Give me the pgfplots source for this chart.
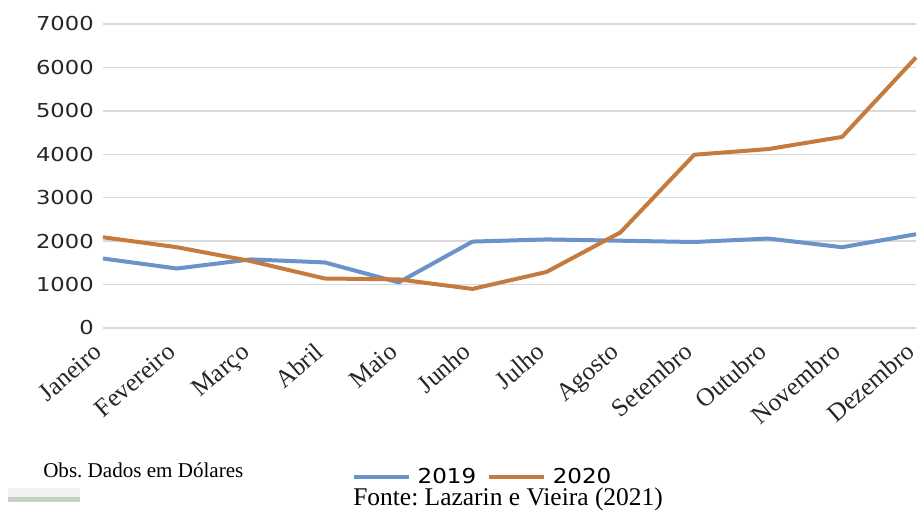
\documentclass[border=0pt]{standalone}
\usepackage{fontspec}
\usepackage{pgfplots}
\pgfplotsset{compat=1.18}
\setmainfont{Liberation Serif}
\newfontfamily\tickfont{DejaVu Sans}[FakeStretch=1.18]
\newfontfamily\legfont{DejaVu Sans}[FakeStretch=1.12]
\definecolor{serie2019}{RGB}{106,146,203}
\definecolor{serie2020}{RGB}{197,122,62}
\definecolor{gridgray}{RGB}{217,217,217}
\definecolor{palegreen}{RGB}{196,210,196}
\definecolor{palehaze}{RGB}{240,243,240}
\frenchspacing

\begin{document}
\begin{tikzpicture}
\useasboundingbox (0,0) rectangle (690.75pt,383.25pt);
\begin{axis}[
  at={(77.25pt,137.25pt)}, anchor=south west,
  scale only axis, width=609.75pt, height=228pt,
  xmin=0, xmax=11, ymin=0, ymax=7000,
  clip=false,
  axis line style={draw=none},
  major tick length=0pt,
  ymajorgrids,
  major grid style={gridgray, line width=1.1pt},
  ytick={0,1000,...,7000},
  yticklabels={0,1000,2000,3000,4000,5000,6000,7000},
  yticklabel style={font=\tickfont\fontsize{14.4}{16}\selectfont, inner sep=0pt, xshift=-6.75pt, text=black!85},
  xtick={0,...,11},
  xticklabels={Janeiro,Fevereiro,Março,Abril,Maio,Junho,Julho,Agosto,Setembro,Outubro,Novembro,Dezembro},
  xticklabel style={font=\fontsize{19}{21}\selectfont, xshift=-4.5pt, yshift=-14.5pt, rotate=41, anchor=north east, inner sep=0pt, text height=0.68em, text depth=0pt, text=black!85},
  legend columns=-1,
  legend style={at={(axis cs:3.369,-3430)}, anchor=west, draw=none, fill=none,
    inner sep=0pt, outer sep=0pt, nodes={inner sep=0pt},
    font=\legfont\fontsize{15.4}{17}\selectfont,
    /tikz/every odd column/.append style={column sep=5pt},
    /tikz/every even column/.append style={column sep=8.25pt}},
  legend image code/.code={\draw[#1] (0pt,0pt) -- (41.25pt,0pt);},
  every axis plot/.append style={line width=3pt, line join=round},
]
\addplot[serie2019] coordinates {
  (0,1600) (1,1370) (2,1580) (3,1510) (4,1050) (5,1990)
  (6,2040) (7,2010) (8,1980) (9,2060) (10,1860) (11,2160)};
\addlegendentry{2019}
\addplot[serie2020] coordinates {
  (0,2090) (1,1860) (2,1540) (3,1140) (4,1120) (5,900)
  (6,1290) (7,2200) (8,3990) (9,4120) (10,4400) (11,6230)};
\addlegendentry{2020}
\end{axis}
% notes below the chart
\node[anchor=base west, inner sep=0pt, font=\fontsize{15.8}{18}\selectfont] at (32.25pt,25.5pt) {Obs. Dados em Dólares};
\node[anchor=base west, inner sep=0pt, font=\fontsize{19.1}{22}\selectfont] at (264.75pt,4.5pt) {Fonte: Lazarin e Vieira (2021)};
\fill[palehaze] (6pt,10.5pt) rectangle (60pt,17.25pt);
\fill[palegreen] (6pt,6.75pt) rectangle (60pt,10.5pt);
\end{tikzpicture}
\end{document}
